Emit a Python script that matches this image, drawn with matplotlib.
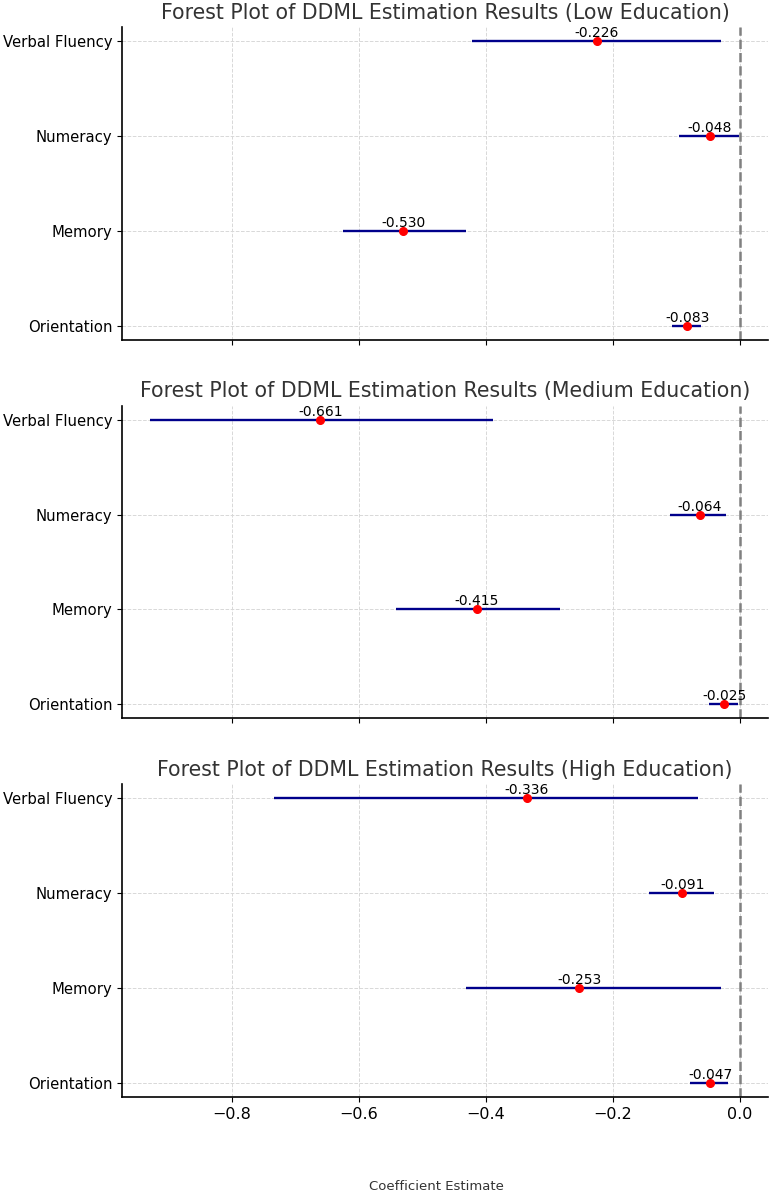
import matplotlib.pyplot as plt

variables = ["Verbal Fluency", "Numeracy", "Memory", "Orientation"]
groups = ["Low Education", "Medium Education", "High Education"]

coef = {
    "Low Education": [-0.226, -0.048, -0.530, -0.083],
    "Medium Education": [-0.661, -0.064, -0.415, -0.025],
    "High Education": [-0.336, -0.091, -0.253, -0.047],
}
ci_low = {
    "Low Education": [-0.422, -0.096, -0.625, -0.107],
    "Medium Education": [-0.929, -0.110, -0.542, -0.049],
    "High Education": [-0.734, -0.143, -0.431, -0.079],
}
ci_high = {
    "Low Education": [-0.030, -0.002, -0.432, -0.061],
    "Medium Education": [-0.389, -0.022, -0.283, -0.003],
    "High Education": [-0.066, -0.041, -0.030, -0.019],
}

fig, axes = plt.subplots(3, 1, figsize=(7.72, 11.99), dpi=100, sharex=True)
fig.subplots_adjust(left=0.158, right=0.995, top=0.9775, bottom=0.085, hspace=0.21)

for ax, g in zip(axes, groups):
    ypos = list(range(len(variables)))
    ax.hlines(ypos, ci_low[g], ci_high[g], color="darkblue", linewidth=1.7, zorder=2)
    ax.plot(coef[g], ypos, "o", color="red", markersize=5.5, zorder=3)
    for y, c in zip(ypos, coef[g]):
        ax.text(c, y - 0.01, f"{c:.3f}", ha="center", va="bottom", fontsize=10)
    ax.axvline(0, color="gray", linestyle="--", linewidth=1.8)
    ax.set_yticks(ypos)
    ax.set_yticklabels(variables, fontsize=10.7)
    ax.invert_yaxis()
    ax.set_title(f"Forest Plot of DDML Estimation Results ({g})", fontsize=14.8, color="#333333")
    ax.grid(True, linestyle="--", color="#d8d8d8", linewidth=0.7)
    ax.set_axisbelow(True)
    ax.spines["top"].set_visible(False)
    ax.spines["right"].set_visible(False)
    ax.spines["left"].set_linewidth(1.2)
    ax.spines["bottom"].set_linewidth(1.2)

axes[-1].set_xlim(-0.973, 0.044)
axes[-1].tick_params(axis="x", labelsize=11.5)
fig.text(0.565, 0.005, "Coefficient Estimate", ha="center", va="bottom", fontsize=9.5, color="#333333")

plt.savefig("out.png")
